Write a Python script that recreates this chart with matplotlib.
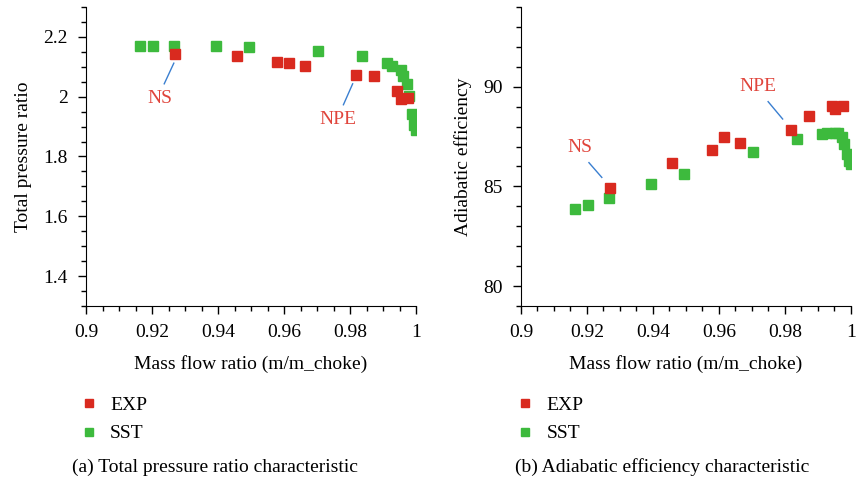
import matplotlib.pyplot as plt
from matplotlib.ticker import MultipleLocator

# DATA
exp_flow = [0.9271, 0.9459, 0.9580, 0.9616, 0.9665, 0.9819, 0.9873, 0.9943, 0.9953, 0.9976]
exp_pr = [2.142, 2.136, 2.116, 2.112, 2.102, 2.072, 2.069, 2.019, 1.992, 1.994]
exp_eff = [84.92, 86.17, 86.82, 87.47, 87.17, 87.83, 88.53, 89.03, 88.86, 89.03]

sst_flow = [0.9165, 0.9204, 0.9268, 0.9395, 0.9495, 0.9704, 0.9836,
            0.9913, 0.9928, 0.9953, 0.9962, 0.9974, 0.9980, 0.9988, 0.9995, 1.0000]
sst_pr = [2.169, 2.169, 2.169, 2.169, 2.166, 2.152, 2.136,
          2.113, 2.102, 2.090, 2.069, 2.042, 2.002, 1.942, 1.906, 1.889]
sst_eff = [83.86, 84.06, 84.41, 85.12, 85.62, 86.72, 87.37,
           87.63, 87.66, 87.68, 87.66, 87.50, 87.12, 86.62, 86.27, 86.12]

RED = '#d92a1f'
GREEN = '#3dba3d'
LABEL_RED = '#e0453c'
LEADER = '#3a7fd0'

plt.rcParams['font.family'] = ['Liberation Serif', 'DejaVu Serif']
plt.rcParams['font.size'] = 14

fig = plt.figure(figsize=(8.56, 4.87), dpi=100)
ax1 = fig.add_axes([0.1005, 0.3717, 0.3855, 0.614])
ax2 = fig.add_axes([0.6086, 0.3717, 0.3855, 0.614])


def style_axes(ax):
    for side in ['top', 'right']:
        ax.spines[side].set_visible(False)
    ax.set_xlim(0.9, 1.0)
    ax.xaxis.set_minor_locator(MultipleLocator(0.005))
    ax.set_xticks([0.9, 0.92, 0.94, 0.96, 0.98, 1.0])
    ax.set_xticklabels(['0.9', '0.92', '0.94', '0.96', '0.98', '1'])
    ax.tick_params(which='major', length=6, width=1, pad=7)
    ax.tick_params(which='minor', length=3.5, width=1)
    ax.set_xlabel('Mass flow ratio (m/m_choke)', labelpad=10)


# (a) total pressure ratio
style_axes(ax1)
ax1.plot(exp_flow, exp_pr, 's', color=RED, ms=7, label='EXP', zorder=3)
ax1.plot(sst_flow, sst_pr, 's', color=GREEN, ms=7, label='SST', zorder=2)
ax1.set_ylim(1.3, 2.3)
ax1.yaxis.set_minor_locator(MultipleLocator(0.05))
ax1.set_yticks([1.4, 1.6, 1.8, 2.0, 2.2])
ax1.set_yticklabels(['1.4', '1.6', '1.8', '2', '2.2'])
ax1.set_ylabel('Total pressure ratio', labelpad=8)
ax1.plot([0.9266, 0.9237], [2.112, 2.043], color=LEADER, lw=1)
ax1.text(0.9224, 1.993, 'NS', color=LABEL_RED, ha='center', va='center', fontsize=14)
ax1.plot([0.9808, 0.9780], [2.043, 1.973], color=LEADER, lw=1)
ax1.text(0.9764, 1.923, 'NPE', color=LABEL_RED, ha='center', va='center', fontsize=14)

# (b) adiabatic efficiency
style_axes(ax2)
ax2.plot(exp_flow, exp_eff, 's', color=RED, ms=7, label='EXP', zorder=3)
ax2.plot(sst_flow, sst_eff, 's', color=GREEN, ms=7, label='SST', zorder=2)
ax2.set_ylim(79, 94)
ax2.yaxis.set_minor_locator(MultipleLocator(1))
ax2.set_yticks([80, 85, 90])
ax2.set_ylabel('Adiabatic efficiency', labelpad=8)
ax2.plot([0.9206, 0.9245], [86.19, 85.45], color=LEADER, lw=1)
ax2.text(0.9179, 86.94, 'NS', color=LABEL_RED, ha='center', va='center', fontsize=14)
ax2.plot([0.9749, 0.9793], [89.25, 88.38], color=LEADER, lw=1)
ax2.text(0.9718, 90.0, 'NPE', color=LABEL_RED, ha='center', va='center', fontsize=14)

for ax, x0 in [(ax1, 0.098), (ax2, 0.608)]:
    ax.legend(loc='upper left', bbox_to_anchor=(x0, 0.186), bbox_transform=fig.transFigure,
              frameon=False, handlelength=0.5, handletextpad=0.85, labelspacing=0.55,
              markerscale=0.8, borderaxespad=0, borderpad=0)

fig.text(0.251, 0.041, '(a) Total pressure ratio characteristic', ha='center', va='center')
fig.text(0.773, 0.041, '(b) Adiabatic efficiency characteristic', ha='center', va='center')

plt.savefig('out.png', dpi=100)
